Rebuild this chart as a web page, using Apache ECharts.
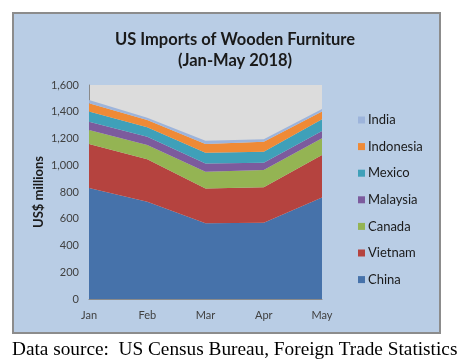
<!DOCTYPE html>
<html>
<head>
<meta charset="utf-8">
<script src="https://cdn.jsdelivr.net/npm/echarts@6/dist/echarts.min.js"></script>
<style>
html,body{margin:0;padding:0;background:#fff;}
#box{position:absolute;left:12px;top:12px;width:425px;height:318px;background:#b9cde5;border:2px solid #8c8c8c;}
#chart{position:absolute;left:0;top:0;width:470px;height:360px;}
</style>
</head>
<body>
<div id="box"></div>
<div id="chart"></div>
<script>
const months = ['Jan','Feb','Mar','Apr','May'];
const china     = [830, 728, 566, 571, 758];
const vietnam   = [329, 316, 261, 264, 319];
const canada    = [105, 107, 125, 129, 124];
const malaysia  = [62, 63, 62, 55, 55];
const mexico    = [75, 70, 80, 82, 87];
const indonesia = [62, 54, 65, 75, 58];
const india     = [25, 18, 25, 18, 20];
const yTicks = [0, 200, 400, 600, 800, 1000, 1200, 1400, 1600];

const seriesDefs = [
  ['China', china, '#4672aa'],
  ['Vietnam', vietnam, '#b5433f'],
  ['Canada', canada, '#94b453'],
  ['Malaysia', malaysia, '#7c5b9d'],
  ['Mexico', mexico, '#3fa0b9'],
  ['Indonesia', indonesia, '#ef8a36'],
  ['India', india, '#9db4db']
];

const chart = echarts.init(document.getElementById('chart'), null, {renderer:'canvas'});
chart.setOption({
  backgroundColor: 'transparent',
  animation: false,
  title: {
    text: 'US Imports of Wooden Furniture\n(Jan-May 2018)',
    left: 'center',
    top: 24,
    textStyle: {fontFamily: 'Lato', fontWeight: 'bold', fontSize: 16.5, color: '#1a1a1a', lineHeight: 21}
  },
  legend: {
    orient: 'vertical',
    left: 353,
    top: 108,
    itemWidth: 7,
    itemHeight: 7,
    itemGap: 12.6,
    icon: 'rect',
    data: ['India','Indonesia','Mexico','Malaysia','Canada','Vietnam','China'],
    textStyle: {fontFamily: 'Lato', fontSize: 13, color: '#1a1a1a', lineHeight: 14, padding: [0,0,0,-2]}
  },
  grid: {left: 89, right: 148, top: 85, bottom: 61, show: true, backgroundColor: '#dcdcdc', borderWidth: 0},
  xAxis: {
    type: 'category',
    data: months,
    boundaryGap: false,
    axisLine: {lineStyle: {color: '#8a8a8a'}},
    axisTick: {show: false},
    axisLabel: {fontFamily: 'Lato', fontSize: 11, color: '#404040', margin: 11}
  },
  yAxis: {
    type: 'value',
    min: 0, max: 1600, interval: 200,
    name: 'US$ millions',
    nameLocation: 'middle',
    nameGap: 44,
    nameTextStyle: {fontFamily: 'Lato', fontWeight: 'bold', fontSize: 13, color: '#1a1a1a'},
    axisLine: {show: true, lineStyle: {color: '#8a8a8a'}},
    axisTick: {show: false},
    splitLine: {show: false},
    axisLabel: {fontFamily: 'Lato', fontSize: 11, color: '#404040', margin: 10,
      formatter: v => yTicks.includes(v) ? v.toLocaleString('en-US') : ''}
  },
  graphic: [{
    type: 'text',
    left: 12,
    top: 340,
    style: {text: 'Data source:  US Census Bureau, Foreign Trade Statistics', font: '19.3px "Liberation Serif"', fill: '#000'}
  }],
  series: seriesDefs.map(([name, data, color]) => ({
    name, type: 'line', stack: 'total', data,
    symbol: 'none',
    lineStyle: {width: 0},
    itemStyle: {color},
    areaStyle: {color, opacity: 1}
  }))
});
</script>
</body>
</html>
